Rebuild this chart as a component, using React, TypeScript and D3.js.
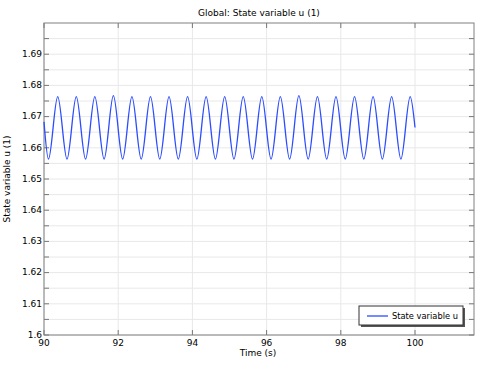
import React from 'react';
import * as d3 from 'd3';

// time (s) at start, alternating troughs/peaks, and end
const times = [
  90, 90.12, 90.37, 90.62, 90.87, 91.12, 91.37, 91.62, 91.87, 92.12, 92.37,
  92.62, 92.87, 93.12, 93.37, 93.62, 93.87, 94.12, 94.37, 94.62, 94.87,
  95.12, 95.37, 95.62, 95.87, 96.12, 96.37, 96.62, 96.87, 97.12, 97.37,
  97.62, 97.87, 98.12, 98.37, 98.62, 98.87, 99.12, 99.37, 99.62, 99.87, 100
];
const uValues = [
  1.6683, 1.6564, 1.6764, 1.6564, 1.6764, 1.6564, 1.6764, 1.6564, 1.6767, 1.6564, 1.6764,
  1.6564, 1.6764, 1.6564, 1.6764, 1.6564, 1.6764, 1.6564, 1.6764, 1.6564, 1.6764,
  1.6564, 1.6764, 1.6564, 1.6764, 1.6564, 1.6764, 1.6564, 1.6767, 1.6564, 1.6764,
  1.6564, 1.6764, 1.6564, 1.6764, 1.6564, 1.6764, 1.6564, 1.6764, 1.6564, 1.6764, 1.6665
];
const xTicks = [90, 92, 94, 96, 98, 100];
const yTicks = [1.6, 1.61, 1.62, 1.63, 1.64, 1.65, 1.66, 1.67, 1.68, 1.69];
const yMinor = d3.range(0, 20).map((i) => 1.6 + i * 0.005);

const W = 483;
const H = 366;
const m = { left: 44, right: 9, top: 23, bottom: 31 };
const font = 'DejaVu Sans, sans-serif';

export default function App() {
  const x = d3.scaleLinear().domain([90, 101.59]).range([m.left, W - m.right]);
  const y = d3.scaleLinear().domain([1.6, 1.7]).range([H - m.bottom, m.top]);
  const data = times.map((t, i) => [t, uValues[i]] as [number, number]);
  const line = d3
    .line<[number, number]>()
    .x((d) => x(d[0]))
    .y((d) => y(d[1]))
    .curve(d3.curveMonotoneX);

  const x0 = m.left;
  const x1 = W - m.right;
  const y0 = H - m.bottom;
  const y1 = m.top;

  return (
    <svg
      width={W}
      height={H}
      style={{ position: 'absolute', left: 0, top: 0, background: '#fff' }}
      fontFamily={font}
    >
      {/* grid */}
      {yMinor.map((v, i) => (
        <line key={'gy' + i} x1={x0} x2={x1} y1={y(v)} y2={y(v)} stroke="#e8e8e8" strokeWidth={1} />
      ))}
      {xTicks.map((v) => (
        <line key={'gx' + v} x1={x(v)} x2={x(v)} y1={y0} y2={y1} stroke="#e8e8e8" strokeWidth={1} />
      ))}

      {/* tick marks */}
      {yMinor.map((v, i) => (
        <g key={'ty' + i} stroke="#777" strokeWidth={1}>
          <line x1={x0} x2={x0 + 5} y1={y(v)} y2={y(v)} />
          <line x1={x1} x2={x1 - 5} y1={y(v)} y2={y(v)} />
        </g>
      ))}
      {xTicks.map((v) => (
        <g key={'tx' + v} stroke="#777" strokeWidth={1}>
          <line x1={x(v)} x2={x(v)} y1={y0} y2={y0 - 5} />
          <line x1={x(v)} x2={x(v)} y1={y1} y2={y1 + 5} />
        </g>
      ))}

      {/* frame */}
      <rect x={x0} y={y1} width={x1 - x0} height={y0 - y1} fill="none" stroke="#808080" strokeWidth={1} />

      {/* series */}
      <path d={line(data) || ''} fill="none" stroke="#2b4cff" strokeWidth={1.3} />

      {/* tick labels */}
      {yTicks.map((v) => (
        <text key={'ly' + v} x={x0 - 2} y={y(v)} dy="0.3em" textAnchor="end" fontSize={9} fill="#000">
          {d3.format('')(+v.toFixed(2))}
        </text>
      ))}
      {xTicks.map((v) => (
        <text key={'lx' + v} x={x(v)} y={y0 + 11} textAnchor="middle" fontSize={9} fill="#000">
          {v}
        </text>
      ))}

      {/* titles */}
      <text x={(x0 + x1) / 2} y={16} textAnchor="middle" fontSize={9} fill="#000">
        Global: State variable u (1)
      </text>
      <text x={258} y={356} textAnchor="middle" fontSize={9} fill="#000">
        Time (s)
      </text>
      <text
        transform={`translate(10,${(y0 + y1) / 2}) rotate(-90)`}
        textAnchor="middle"
        fontSize={9}
        fill="#000"
      >
        State variable u (1)
      </text>

      {/* legend */}
      <rect x={361} y={308} width={104} height={19} fill="#555" />
      <rect x={359} y={306} width={104} height={19} fill="#fff" stroke="#333" strokeWidth={1} />
      <line x1={367} x2={388} y1={316} y2={316} stroke="#2b4cff" strokeWidth={1.3} />
      <text x={392} y={316} dy="0.35em" fontSize={8.3} fill="#000">
        State variable u
      </text>
    </svg>
  );
}
